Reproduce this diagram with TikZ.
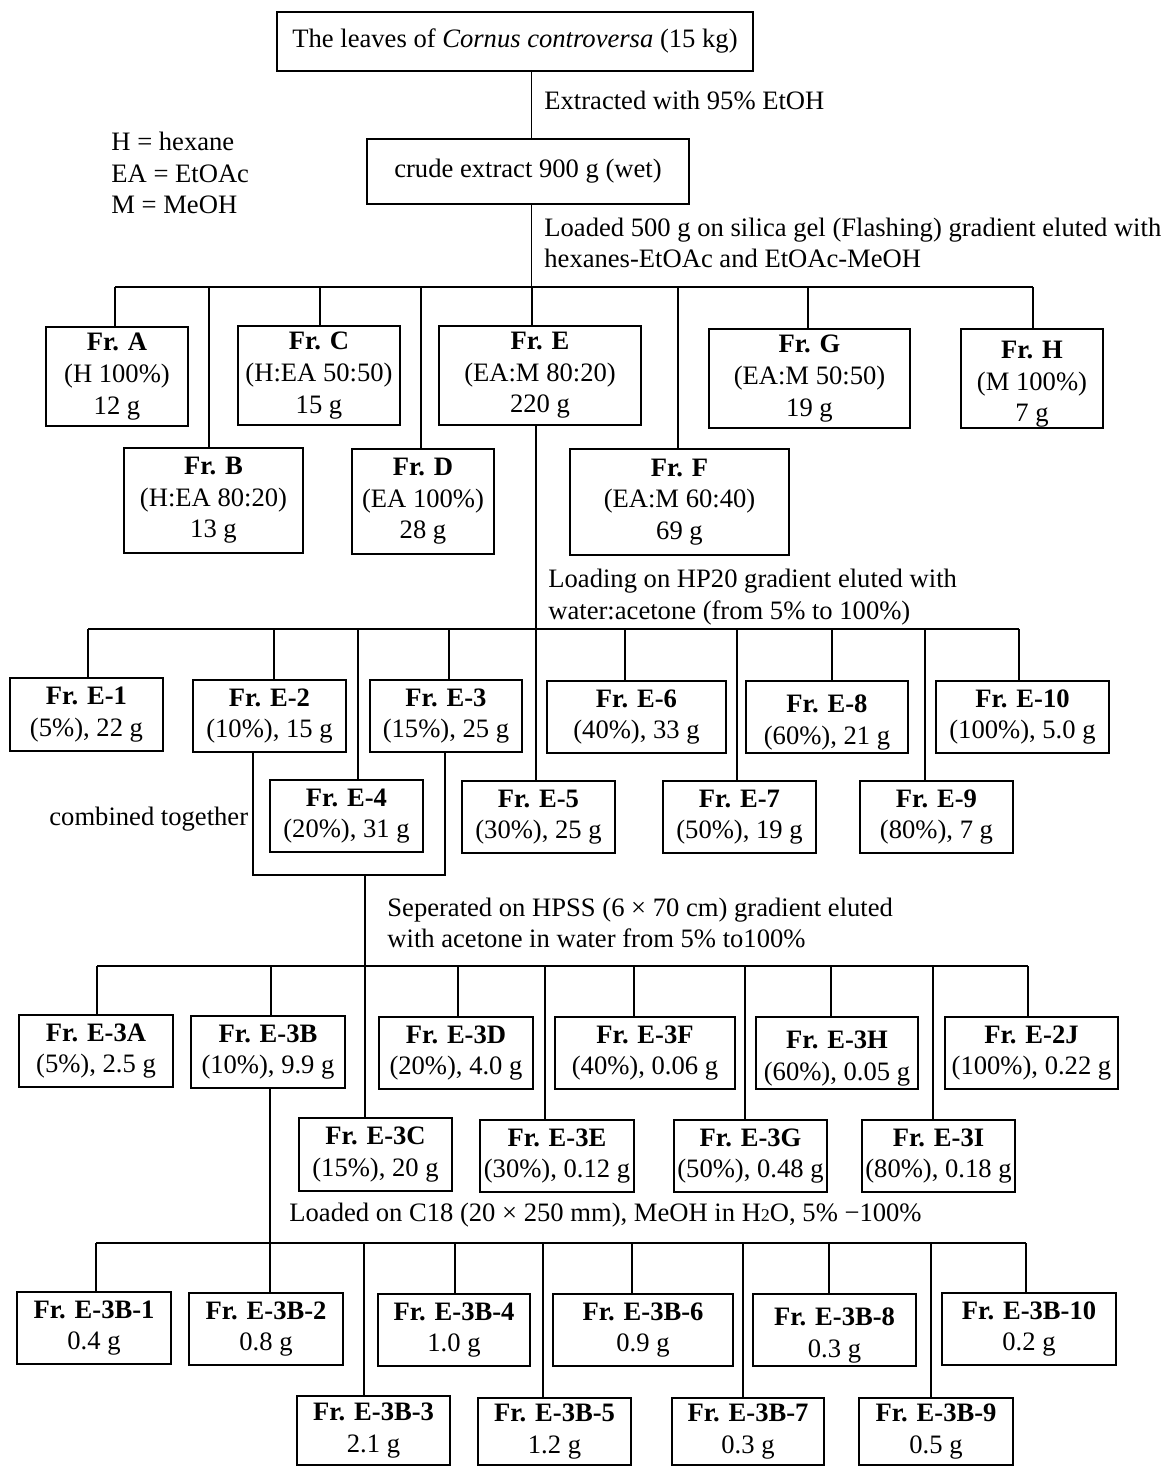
\documentclass[tikz,border=0pt]{standalone}
\usepackage{fontspec}
\setmainfont{Liberation Serif}
\newcommand\fs{\fontsize{13.3}{15.8}\selectfont}
% tall strut that pushes a box's text block a little lower
\newcommand\lowtxt{\rule{0pt}{14.5pt}}
% box with corners (x1,y1) and (x2,y2) in the picture's units
\newcommand\frnode[6]{%
  \node[frbox, minimum width={(#4-#2)*0.5pt}, minimum height={(#5-#3)*0.5pt}]
    (#1) at ({(#2+#4)/2},{(#3+#5)/2}) {#6};}
\tikzset{
  frbox/.style={draw, line width=1pt, inner sep=0pt, align=center, font=\fs},
  lbl/.style={anchor=west, inner sep=0pt, align=left, font=\fs},
  conn/.style={line width=0.7pt},
  bus/.style={line width=1.1pt}
}
\begin{document}
\begin{tikzpicture}[x=0.5pt,y=-0.5pt]
\useasboundingbox (0,0) rectangle (1167,1467);

% ---- source and crude extract
\frnode{top}{277}{12}{753}{71}{The leaves of \textit{Cornus controversa} (15 kg)}
\frnode{crude}{367}{139}{689}{204}{crude extract 900 g (wet)}
\node[lbl] (ext) at (544,100) {Extracted with 95\% EtOH};
\node[lbl] (legend) at (111,173) {H = hexane\\EA = EtOAc\\M = MeOH};
\node[lbl] (silica) at (544,243) {Loaded 500 g on silica gel (Flashing) gradient eluted with\\hexanes-EtOAc and EtOAc-MeOH};

% ---- silica gel fractions
\frnode{frA}{46}{327}{188}{426}{\textbf{Fr. A}\\(H 100\%)\\12 g}
\frnode{frC}{238}{326}{400}{425}{\textbf{Fr. C}\\(H:EA 50:50)\\15 g}
\frnode{frE}{439}{326}{641}{425}{\textbf{Fr. E}\\(EA:M 80:20)\\220 g}
\frnode{frG}{709}{329}{910}{428}{\textbf{Fr. G}\\(EA:M 50:50)\\19 g}
\frnode{frH}{961}{329}{1103}{428}{\lowtxt\textbf{Fr. H}\\(M 100\%)\\7 g}
\frnode{frB}{124}{448}{303}{553}{\textbf{Fr. B}\\(H:EA 80:20)\\13 g}
\frnode{frD}{352}{449}{494}{554}{\textbf{Fr. D}\\(EA 100\%)\\28 g}
\frnode{frF}{570}{449}{789}{555}{\textbf{Fr. F}\\(EA:M 60:40)\\69 g}

% ---- HP20 fractions
\node[lbl] (hp) at (548,597) {Loading on HP20 gradient eluted with\\water:acetone (from 5\% to 100\%)};
\frnode{frEa}{10}{678}{163}{751}{\textbf{Fr. E-1}\\(5\%), 22 g}
\frnode{frEb}{193}{680}{346}{752}{\textbf{Fr. E-2}\\(10\%), 15 g}
\frnode{frEc}{370}{680}{522}{752}{\textbf{Fr. E-3}\\(15\%), 25 g}
\frnode{frEf}{547}{681}{726}{753}{\textbf{Fr. E-6}\\(40\%), 33 g}
\frnode{frEh}{746}{681}{908}{753}{\lowtxt\textbf{Fr. E-8}\\(60\%), 21 g}
\frnode{frEj}{936}{681}{1109}{753}{\textbf{Fr. E-10}\\(100\%), 5.0 g}
\frnode{frEd}{270}{780}{423}{852}{\textbf{Fr. E-4}\\(20\%), 31 g}
\frnode{frEe}{462}{781}{615}{853}{\textbf{Fr. E-5}\\(30\%), 25 g}
\frnode{frEg}{663}{781}{816}{853}{\textbf{Fr. E-7}\\(50\%), 19 g}
\frnode{frEi}{860}{781}{1013}{853}{\textbf{Fr. E-9}\\(80\%), 7 g}
\node[lbl] (comb) at (49,819) {combined together};

% ---- HPSS fractions
\node[lbl] (hpss) at (387,923) {Seperated on HPSS (6 × 70 cm) gradient eluted\\with acetone in water from 5\% to100\%};
\frnode{frFa}{19}{1015}{173}{1087}{\textbf{Fr. E-3A}\\(5\%), 2.5 g}
\frnode{frFb}{191}{1016}{345}{1088}{\textbf{Fr. E-3B}\\(10\%), 9.9 g}
\frnode{frFd}{379}{1017}{533}{1089}{\textbf{Fr. E-3D}\\(20\%), 4.0 g}
\frnode{frFf}{555}{1017}{735}{1089}{\textbf{Fr. E-3F}\\(40\%), 0.06 g}
\frnode{frFh}{756}{1017}{918}{1089}{\lowtxt\textbf{Fr. E-3H}\\(60\%), 0.05 g}
\frnode{frFj}{945}{1017}{1118}{1089}{\textbf{Fr. E-2J}\\(100\%), 0.22 g}
\frnode{frFc}{299}{1118}{452}{1191}{\textbf{Fr. E-3C}\\(15\%), 20 g}
\frnode{frFe}{480}{1120}{634}{1192}{\textbf{Fr. E-3E}\\(30\%), 0.12 g}
\frnode{frFg}{674}{1120}{827}{1192}{\textbf{Fr. E-3G}\\(50\%), 0.48 g}
\frnode{frFi}{862}{1120}{1015}{1192}{\textbf{Fr. E-3I}\\(80\%), 0.18 g}

% ---- C18 fractions
\node[lbl] (c18) at (289,1215) {Loaded on C18 (20 × 250 mm), MeOH in H{\fontsize{9}{9}\selectfont 2}O, 5\% −100\%};
\frnode{frGa}{17}{1292}{171}{1364}{\textbf{Fr. E-3B-1}\\0.4 g}
\frnode{frGb}{189}{1293}{343}{1365}{\textbf{Fr. E-3B-2}\\0.8 g}
\frnode{frGd}{378}{1294}{530}{1366}{\textbf{Fr. E-3B-4}\\1.0 g}
\frnode{frGf}{553}{1294}{733}{1366}{\textbf{Fr. E-3B-6}\\0.9 g}
\frnode{frGh}{753}{1294}{916}{1366}{\lowtxt\textbf{Fr. E-3B-8}\\0.3 g}
\frnode{frGj}{942}{1293}{1116}{1365}{\textbf{Fr. E-3B-10}\\0.2 g}
\frnode{frGc}{297}{1396}{450}{1465}{\textbf{Fr. E-3B-3}\\2.1 g}
\frnode{frGe}{478}{1398}{631}{1465}{\textbf{Fr. E-3B-5}\\1.2 g}
\frnode{frGg}{672}{1398}{824}{1465}{\textbf{Fr. E-3B-7}\\0.3 g}
\frnode{frGi}{859}{1398}{1013}{1465}{\textbf{Fr. E-3B-9}\\0.5 g}

% ---- connectors
\coordinate (s0) at (531.5,0);
\draw[conn] (top.south -| s0) -- (crude.north -| s0);

\coordinate (b1L) at (115,287); \coordinate (b1R) at (1033,287);
\draw[bus] (b1L) -- (b1R);
\draw[conn] (crude.south -| s0) -- (s0 |- b1L);
\foreach \n/\x in {frA/115,frB/209,frC/320,frD/421,frE/532,frF/678,frG/808,frH/1033}{
  \coordinate (d-\n) at (\x,287);
  \draw[conn] (d-\n) -- (d-\n |- \n.north);
}

\coordinate (eX) at (536,0);
\draw[conn] (frE.south -| eX) -- (frEe.north -| eX);
\coordinate (b2L) at (88,629); \coordinate (b2R) at (1019,629);
\draw[bus] (b2L) -- (b2R);
\foreach \n/\x in {frEa/88,frEb/274,frEd/358,frEc/449,frEf/625,frEg/737,frEh/832,frEi/925,frEj/1019}{
  \coordinate (d-\n) at (\x,629);
  \draw[conn] (d-\n) -- (d-\n |- \n.north);
}

\coordinate (cmbL) at (253,875); \coordinate (cmbR) at (445,875);
\coordinate (cmbM) at (365,875);
\draw[conn] (frEb.south -| cmbL) -- (cmbL) -- (cmbR) -- (frEc.south -| cmbR);
\draw[conn] (cmbM) -- (frFc.north -| cmbM);

\coordinate (b3L) at (97,966); \coordinate (b3R) at (1028,966);
\draw[bus] (b3L) -- (b3R);
\foreach \n/\x in {frFa/97,frFb/271,frFd/458,frFe/545,frFf/634,frFg/745,frFh/831,frFi/933,frFj/1028}{
  \coordinate (d-\n) at (\x,966);
  \draw[conn] (d-\n) -- (d-\n |- \n.north);
}

\coordinate (bX) at (270,0);
\draw[conn] (frFb.south -| bX) -- (frGb.north -| bX);
\coordinate (b4L) at (96,1243); \coordinate (b4R) at (1026,1243);
\draw[bus] (b4L) -- (b4R);
\foreach \n/\x in {frGa/96,frGc/364,frGd/455,frGe/543,frGf/632,frGg/743,frGh/829,frGi/931,frGj/1026}{
  \coordinate (d-\n) at (\x,1243);
  \draw[conn] (d-\n) -- (d-\n |- \n.north);
}
\end{tikzpicture}
\end{document}
